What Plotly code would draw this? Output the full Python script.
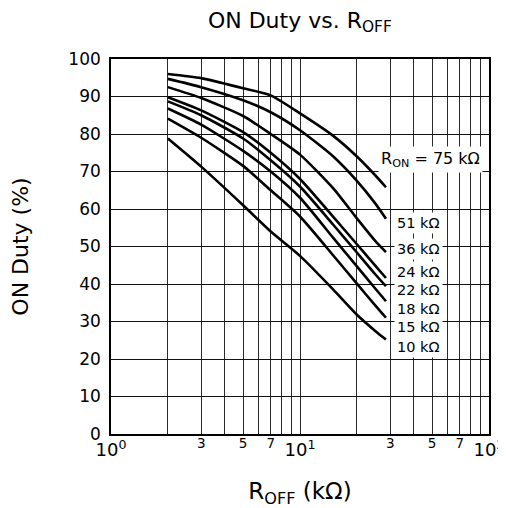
import math
import plotly.graph_objects as go

# ---------------- data ----------------
r_off_kohm = [2, 3, 5, 7, 10, 15, 20, 25, 28.5]

duty_75k = [96.0, 94.9, 92.2, 90.3, 85.5, 79.5, 74.0, 69.0, 65.8]
duty_51k = [94.7, 92.5, 89.0, 85.8, 81.0, 74.0, 67.5, 61.5, 57.4]
duty_36k = [92.5, 89.6, 84.8, 80.0, 74.5, 65.5, 57.5, 51.5, 48.5]
duty_24k = [89.8, 86.3, 80.5, 75.0, 68.0, 57.9, 50.6, 44.9, 41.6]
duty_22k = [88.7, 85.0, 78.8, 73.0, 66.0, 55.8, 48.4, 42.6, 39.4]
duty_18k = [86.8, 82.5, 75.5, 70.0, 63.0, 52.3, 44.7, 38.8, 35.4]
duty_15k = [84.1, 79.0, 71.5, 65.0, 58.0, 47.6, 40.1, 34.3, 31.0]
duty_10k = [78.8, 71.3, 61.0, 54.0, 47.5, 38.5, 31.8, 27.5, 25.2]

series = [duty_75k, duty_51k, duty_36k, duty_24k,
          duty_22k, duty_18k, duty_15k, duty_10k]

curve_labels = ["R<sub>ON</sub> = 75 kΩ", "51 kΩ", "36 kΩ", "24 kΩ",
                "22 kΩ", "18 kΩ", "15 kΩ", "10 kΩ"]

# grid lines at every 1-2-...-9 step, decade labels and in-between digit labels
x_grid_vals = [1, 2, 3, 4, 5, 6, 7, 8, 9,
               10, 20, 30, 40, 50, 60, 70, 80, 90, 100]
x_decade_text = ["10<sup>0</sup>", "", "", "", "", "", "", "", "",
                 "10<sup>1</sup>", "", "", "", "", "", "", "", "",
                 "10<sup>2</sup>"]
x_minor_vals = [3, 5, 7, 30, 50, 70]
x_minor_text = ["3", "5", "7", "3", "5", "7"]
y_tick_vals = list(range(0, 101, 10))

# ------------- annotation placement (layout, not data) -------------
label_pos = [(49.3, 73.2), (42.4, 56.2), (42.4, 49.4), (42.4, 43.3),
             (42.4, 38.3), (42.4, 33.4), (42.4, 28.5), (42.4, 23.2)]
label_size = [16, 14.5, 14.5, 14.5, 14.5, 14.5, 14.5, 14.5]

FONT = "DejaVu Sans, Verdana, sans-serif"

fig = go.Figure()
for vals in series:
    fig.add_trace(go.Scatter(
        x=r_off_kohm, y=vals, mode="lines",
        line=dict(color="black", width=2.6, shape="spline", smoothing=0.6),
        showlegend=False, hoverinfo="skip"))

# invisible carrier so the secondary (digit-label) x axis gets drawn
fig.add_trace(go.Scatter(
    x=[x_grid_vals[0], x_grid_vals[-1]], y=[y_tick_vals[0], y_tick_vals[0]],
    xaxis="x2", yaxis="y", mode="lines",
    line=dict(width=0, color="rgba(0,0,0,0)"),
    showlegend=False, hoverinfo="skip"))

annotations = []
for text, (lx, ly), fs in zip(curve_labels, label_pos, label_size):
    annotations.append(dict(
        x=math.log10(lx), y=ly, xref="x", yref="y", text=text,
        showarrow=False, xanchor="center", yanchor="middle",
        bgcolor="white", borderpad=2,
        font=dict(family=FONT, size=fs, color="black")))

# page body has an 8px default margin, so the figure is sized/offset for it
fig.update_layout(
    width=498, height=500,
    margin=dict(l=103, r=17, t=51, b=74, autoexpand=False),
    paper_bgcolor="white", plot_bgcolor="white",
    title=dict(text="ON Duty vs. R<sub>OFF</sub>", x=0.586, xanchor="center",
               y=0.976, yanchor="middle",
               font=dict(family=FONT, size=22, color="black")),
    font=dict(family=FONT, size=17, color="black"),
    annotations=annotations,
    xaxis2=dict(
        type="log", range=[0, 2], overlaying="x", anchor="y", side="bottom",
        automargin=False, tickmode="array",
        tickvals=x_minor_vals, ticktext=x_minor_text,
        showgrid=False, showline=False, zeroline=False, ticks="",
        ticklabelstandoff=-1,
        tickfont=dict(family=FONT, size=13.5, color="black")),
)

fig.update_xaxes(
    selector=dict(anchor="y", overlaying=None),
)
fig.layout.xaxis.update(
    type="log", range=[0, 2], automargin=False,
    tickmode="array", tickvals=x_grid_vals, ticktext=x_decade_text,
    showgrid=True, gridcolor="#2a2a2a", gridwidth=1,
    showline=True, linecolor="black", linewidth=1.6, mirror=True,
    ticks="", zeroline=False, ticklabelstandoff=-1,
    tickfont=dict(family=FONT, size=18, color="black"),
    title=dict(text="R<sub>OFF</sub> (kΩ)", standoff=30,
               font=dict(family=FONT, size=23, color="black")),
)
fig.update_yaxes(
    range=[0, 100], tickmode="array", tickvals=y_tick_vals, automargin=False,
    showgrid=True, gridcolor="#111111", gridwidth=1,
    showline=True, linecolor="black", linewidth=1.6, mirror=True,
    ticks="", zeroline=False, ticklabelstandoff=5,
    tickfont=dict(family=FONT, size=17, color="black"),
    title=dict(text="ON Duty (%)", standoff=36,
               font=dict(family=FONT, size=22, color="black")),
)

fig.write_html("out.html")
